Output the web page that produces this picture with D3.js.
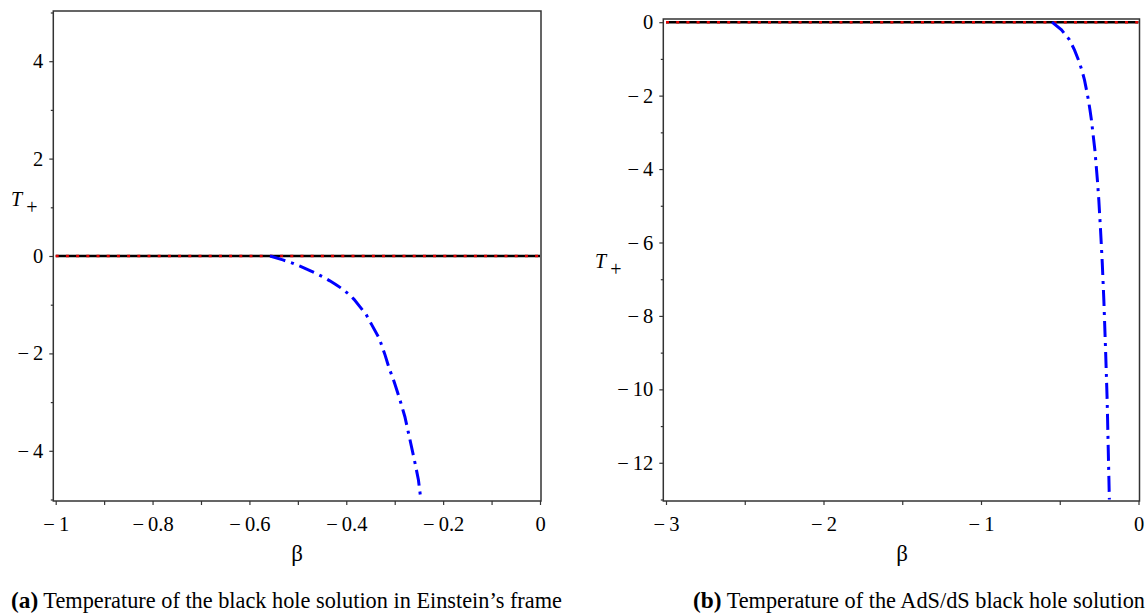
<!DOCTYPE html>
<html><head><meta charset="utf-8">
<script src="https://cdn.jsdelivr.net/npm/d3@7"></script>
<style>
html,body{margin:0;padding:0;background:#fff;}
svg{display:block;}
text{font-family:"Liberation Serif","Times New Roman",serif;fill:#000;}
</style></head>
<body><svg id="c" width="1145" height="615"></svg>
<script>
// ---- data ----
const leftBeta = [-0.5575, -0.531, -0.510, -0.491, -0.475, -0.460, -0.446, -0.434, -0.421, -0.409, -0.394, -0.384, -0.372, -0.359, -0.347, -0.332, -0.326, -0.320, -0.311, -0.304, -0.299, -0.289, -0.279, -0.269, -0.257, -0.251, -0.246];
const leftT    = [0, -0.08, -0.15, -0.23, -0.30, -0.37, -0.44, -0.51, -0.59, -0.67, -0.79, -0.89, -1.04, -1.20, -1.42, -1.69, -1.86, -2.03, -2.32, -2.50, -2.65, -2.96, -3.30, -3.75, -4.30, -4.60, -5.0];
const rightBeta = [-0.549, -0.489, -0.438, -0.406, -0.381, -0.360, -0.343, -0.330, -0.318, -0.308, -0.299, -0.288, -0.277, -0.269, -0.261, -0.252, -0.241, -0.230, -0.220, -0.209, -0.199, -0.192, -0.185];
const rightT    = [0, -0.21, -0.48, -0.76, -1.03, -1.30, -1.57, -1.85, -2.12, -2.39, -2.66, -3.07, -3.48, -3.89, -4.30, -4.84, -5.66, -6.56, -7.57, -8.93, -10.29, -11.65, -13.0];
const leftXTicks = [-1, -0.8, -0.6, -0.4, -0.2, 0];
const leftXMinor = [-0.9, -0.7, -0.5, -0.3, -0.1];
const leftYTicks = [-4, -2, 0, 2, 4];
const leftYMinor = [-5, -3, -1, 1, 3, 5];
const rightXTicks = [-3, -2, -1, 0];
const rightXMinor = [-2.5, -1.5, -0.5];
const rightYTicks = [-12, -10, -8, -6, -4, -2, 0];
const rightYMinor = [-13, -11, -9, -7, -5, -3, -1];
const captionA = ["(a)", " Temperature of the black hole solution in Einstein\u2019s frame"];
const captionB = ["(b)", " Temperature of the AdS/dS black hole solution"];

const svg = d3.select("#c");
const SERIF = '"Liberation Serif","Times New Roman",serif';
const fmt = v => (v < 0 ? "\u2212\u2009" + d3.format("")(-v) : d3.format("")(v));

function panel(o) {
  const x = d3.scaleLinear().domain(o.xd).range(o.xr);
  const y = d3.scaleLinear().domain(o.yd).range(o.yr);
  const g = svg.append("g");
  const fx0 = o.frame[0], fy0 = o.frame[1], fx1 = o.frame[2], fy1 = o.frame[3];
  const clipId = "clip" + o.id;
  svg.append("clipPath").attr("id", clipId).append("rect")
    .attr("x", fx0).attr("y", fy0).attr("width", fx1 - fx0).attr("height", fy1 - fy0);

  const xa = g.append("g").attr("transform", `translate(0,${fy1})`)
    .call(d3.axisBottom(x).tickValues(o.xt).tickSize(4).tickPadding(11).tickFormat(fmt));
  const xm = g.append("g").attr("transform", `translate(0,${fy1})`)
    .call(d3.axisBottom(x).tickValues(o.xm).tickSize(4).tickFormat(""));
  const ya = g.append("g").attr("transform", `translate(${fx0},0)`)
    .call(d3.axisLeft(y).tickValues(o.yt).tickSize(4).tickPadding(6).tickFormat(fmt));
  const ym = g.append("g").attr("transform", `translate(${fx0},0)`)
    .call(d3.axisLeft(y).tickValues(o.ym).tickSize(2.5).tickFormat(""));
  [xa, xm, ya, ym].forEach(a => {
    a.attr("font-size", 20.5).attr("font-family", SERIF);
    a.select(".domain").remove();
    a.selectAll("line").attr("stroke", "#333").attr("stroke-width", 1.2);
    a.selectAll("text").attr("font-size", 20.5).attr("font-family", SERIF)
      .style("font-size", "20.5px").style("font-family", SERIF).attr("fill", "#000");
  });

  const pg = g.append("g").attr("clip-path", `url(#${clipId})`);
  const zero = [[o.xd[0], 0], [o.xd[1], 0]];
  const ln = d3.line().x(d => x(d[0])).y(d => y(d[1]));
  pg.append("path").attr("d", ln(zero)).attr("stroke", "#000").attr("stroke-width", 2.6).attr("fill", "none");
  pg.append("path").attr("d", ln(zero)).attr("stroke", "#e00000").attr("stroke-width", 2.6)
    .attr("stroke-dasharray", "3 7.2").attr("fill", "none");

  const pts = o.bx.map((b, i) => [b, o.ty[i]]);
  pg.append("path").attr("d", ln(pts)).attr("stroke", "#0000ff").attr("stroke-width", 3)
    .attr("stroke-dasharray", "16 6 3 6").attr("fill", "none");

  g.append("rect").attr("x", fx0).attr("y", fy0).attr("width", fx1 - fx0).attr("height", fy1 - fy0)
    .attr("fill", "none").attr("stroke", "#333").attr("stroke-width", 1.5);

  g.append("text").attr("x", o.betaPos[0]).attr("y", o.betaPos[1]).attr("text-anchor", "middle")
    .style("font-size", "23px").text("\u03b2");
  const tl = g.append("text").attr("x", o.tPos[0]).attr("y", o.tPos[1]);
  tl.append("tspan").style("font-style", "italic").style("font-size", "20px").text("T");
  tl.append("tspan").attr("dx", 4).attr("dy", 8).style("font-size", "20px").text("+");

  const c = svg.append("text").attr("x", o.capPos[0]).attr("y", o.capPos[1]).style("font-size", "22.3px");
  c.append("tspan").style("font-weight", "bold").style("font-size", "23.3px").text(o.cap[0]);
  c.append("tspan").text(o.cap[1]);
}

panel({id: "a", xd: [-1, 0], xr: [55.7, 540], yd: [-5, 5], yr: [499.5, 12.5],
  frame: [53.3, 11, 541, 501], xt: leftXTicks, xm: leftXMinor, yt: leftYTicks, ym: leftYMinor,
  bx: leftBeta, ty: leftT, betaPos: [297, 561], tPos: [11, 206], capPos: [11, 608], cap: captionA});
panel({id: "b", xd: [-3, 0], xr: [666, 1138.5], yd: [-13, 0], yr: [499.5, 22.2],
  frame: [663.3, 19, 1139.5, 501], xt: rightXTicks, xm: rightXMinor, yt: rightYTicks, ym: rightYMinor,
  bx: rightBeta, ty: rightT, betaPos: [902, 561], tPos: [595, 268], capPos: [693, 608], cap: captionB});
</script></body></html>
